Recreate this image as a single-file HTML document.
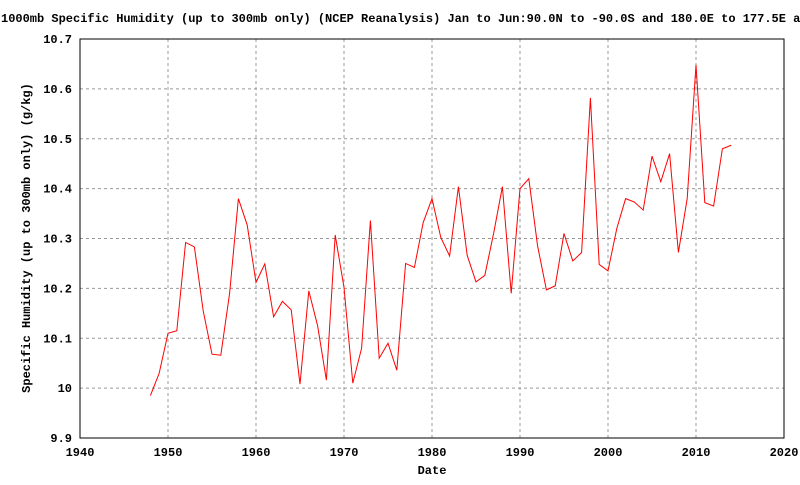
<!DOCTYPE html>
<html><head><meta charset="utf-8"><style>
body{margin:0;background:#fff}
svg text{font-family:"Liberation Mono",monospace;font-size:12px;font-weight:bold;fill:#000}
</style></head><body>
<svg id="chart" width="800" height="480">
<text x="1" y="22">1000mb Specific Humidity (up to 300mb only) (NCEP Reanalysis) Jan to Jun:90.0N to -90.0S and 180.0E to 177.5E average</text>
<g id="grid"></g>
<rect x="80" y="39" width="704" height="399" fill="none" stroke="#000"/>
<g id="ticks"></g>
<polyline id="line" fill="none" stroke="#f00" stroke-width="1"/>
<text x="432" y="474" text-anchor="middle">Date</text>
<text transform="translate(30,238) rotate(-90)" text-anchor="middle">Specific Humidity (up to 300mb only) (g/kg)</text>
</svg>
<script>
const years=[];for(let y=1948;y<=2014;y++)years.push(y);
const values=[9.985,10.03,10.11,10.115,10.292,10.283,10.155,10.068,10.066,10.19,10.38,10.327,10.212,10.249,10.143,10.174,10.157,10.008,10.195,10.125,10.016,10.307,10.202,10.01,10.08,10.336,10.06,10.09,10.036,10.25,10.242,10.332,10.38,10.302,10.265,10.404,10.266,10.213,10.226,10.31,10.404,10.19,10.4,10.42,10.285,10.197,10.205,10.31,10.255,10.272,10.582,10.248,10.235,10.32,10.38,10.373,10.357,10.465,10.414,10.47,10.272,10.38,10.648,10.372,10.365,10.48,10.487];
const xTicks=[1940,1950,1960,1970,1980,1990,2000,2010,2020];
const yTicks=[9.9,10,10.1,10.2,10.3,10.4,10.5,10.6,10.7];
const yLabels=["9.9","10","10.1","10.2","10.3","10.4","10.5","10.6","10.7"];
const X=v=>80+(v-1940)/80*704;
const Y=v=>438-(v-9.9)/0.8*399;
const NS="http://www.w3.org/2000/svg";
const grid=document.getElementById('grid'),ticks=document.getElementById('ticks');
function mk(tag,attrs,parent){const e=document.createElementNS(NS,tag);for(const k in attrs)e.setAttribute(k,attrs[k]);parent.appendChild(e);return e;}
xTicks.forEach(t=>{const x=X(t);
 const g=mk('line',{x1:x,x2:x,y1:39,y2:438,stroke:'#999','stroke-dasharray':'3,3'},grid);
 
 
 const l=mk('text',{x:x,y:456,'text-anchor':'middle'},ticks);l.textContent=t;
 
 
});
yTicks.forEach((t,i)=>{const y=Y(t);
 const g=mk('line',{x1:80,x2:784,y1:y,y2:y,stroke:'#999','stroke-dasharray':'3,3'},grid);
 
 
 const l=mk('text',{x:72,y:y+4,'text-anchor':'end'},ticks);l.textContent=yLabels[i];
 
 
});
document.getElementById('line').setAttribute('points',years.map((y,i)=>X(y)+','+Y(values[i])).join(' '));
</script>
</body></html>
